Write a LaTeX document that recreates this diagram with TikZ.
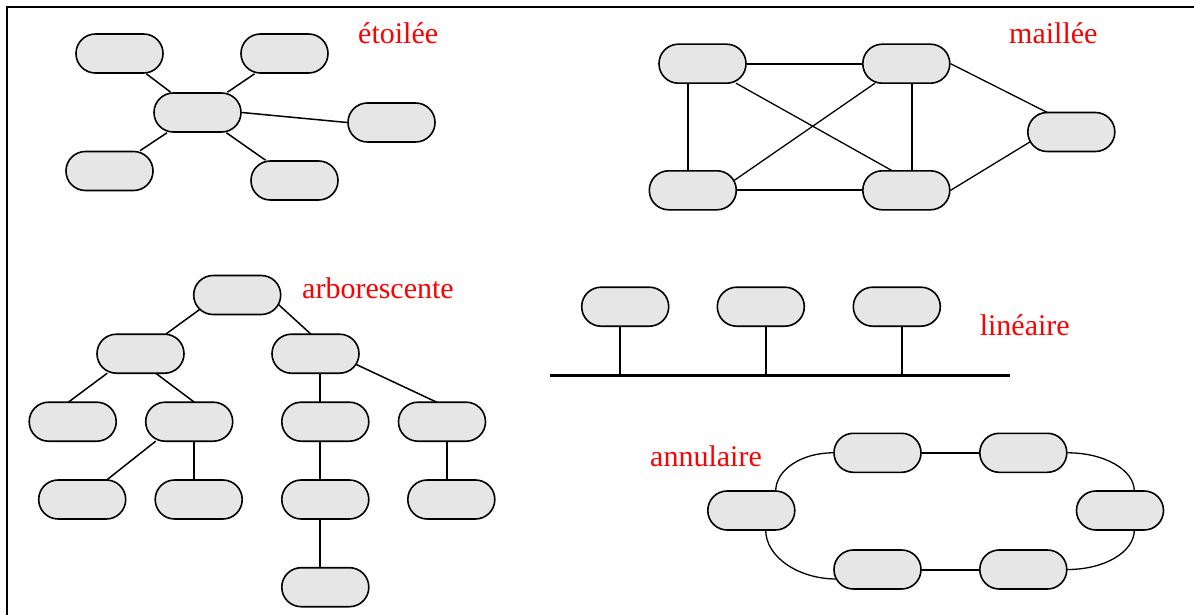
\documentclass[tikz,border=0pt]{standalone}
\usepackage{fontspec}
\setmainfont{Liberation Serif}
\definecolor{nodegray}{RGB}{230,230,230}
\begin{document}
\begin{tikzpicture}[x=1pt,y=-1pt,
  host/.style={draw, line width=1.6pt, fill=nodegray, rectangle, rounded corners=19.4pt,
               minimum width=87pt, minimum height=39pt, inner sep=0pt},
  lbl/.style={text=red, font=\fontsize{30}{32}\selectfont, inner sep=0pt, anchor=base west},
  wire/.style={line width=1.5pt},
  wirethin/.style={line width=1.3pt},
  wirebold/.style={line width=2pt},
  busline/.style={line width=3.2pt},
  frame/.style={line width=1.4pt}]
\useasboundingbox (0,0) rectangle (1194,615);

% frame
\coordinate (fbl) at (7,615);
\coordinate (ftl) at (7,7);
\coordinate (ftr) at (1194,7);
\draw[frame] (fbl) -- (ftl) -- (ftr);

% ---------------- etoilee ----------------
\node[host] (s0) at (197.5,112.5) {};
\node[host] (s1) at (119.5,53.5) {};
\node[host] (s2) at (284.5,53.5) {};
\node[host] (s3) at (391.5,122.5) {};
\node[host] (s4) at (109.5,171) {};
\node[host] (s5) at (294.5,180.5) {};
\draw[wire] (s0) -- (s1);
\draw[wire] (s0) -- (s2);
\draw[wire] (s0.east) -- (s3.west);
\draw[wire] (s0) -- (s4);
\draw[wire] (s0) -- (s5);
\node[lbl] (tstar) at (358,43.3) {étoilée};

% ---------------- maillee ----------------
\node[host] (mA) at (702.5,63.7) {};
\node[host] (mB) at (906.3,63.7) {};
\node[host] (mC) at (692.8,190.3) {};
\node[host] (mD) at (906.3,190.3) {};
\node[host] (mE) at (1071.3,132) {};
\draw[wirebold] (mA) -- (mB);
\draw[wirebold] (mC) -- (mD);
\draw[wirebold] ([shift={(-14.5,19.5)}]mA.center) -- ([shift={(-4.8,-19.5)}]mC.center);
\draw[wirebold] ([shift={(6,19.5)}]mB.center) -- ([shift={(6,-19.5)}]mD.center);
\draw[wirethin] ([shift={(33.5,19.5)}]mA.center) -- ([shift={(-14,-19.5)}]mD.center);
\draw[wirethin] ([shift={(41,-9.6)}]mC.center) -- ([shift={(-31.3,19.5)}]mB.center);
\draw[wirethin] (mB.east) -- ([shift={(-24,-19.5)}]mE.center);
\draw[wirethin] (mD.east) -- ([shift={(-41,9.7)}]mE.center);
\node[lbl] (tmesh) at (1009,44) {maillée};

% ---------------- arborescente ----------------
\node[host] (r)    at (237.2,295) {};
\node[host] (l1)   at (140.5,353.7) {};
\node[host] (r1)   at (315.5,353.7) {};
\node[host] (l1a)  at (72.7,421.7) {};
\node[host] (l1b)  at (189.2,421.7) {};
\node[host] (r1a)  at (325.3,421.7) {};
\node[host] (r1b)  at (442,421.7) {};
\node[host] (l1ba) at (82.2,499.5) {};
\node[host] (l1bb) at (198.7,499.5) {};
\node[host] (r1aa) at (325.3,499.5) {};
\node[host] (r1ba) at (451.3,499.5) {};
\node[host] (r1aaa) at (325.3,587.2) {};
\draw[wire] ([shift={(-37.3,14.3)}]r.center) -- ([shift={(25.2,-19.5)}]l1.center);
\draw[wire] ([shift={(41,9.3)}]r.center) -- ([shift={(-4.5,-19.5)}]r1.center);
\draw[wire] ([shift={(-33.2,19.5)}]l1.center) -- ([shift={(-4.4,-19.5)}]l1a.center);
\draw[wire] ([shift={(15.2,19.5)}]l1.center) -- ([shift={(5.1,-19.5)}]l1b.center);
\draw[wirebold] ([shift={(4.5,19.5)}]r1.center) -- ([shift={(-5.3,-19.5)}]r1a.center);
\draw[wire] ([shift={(40.4,10.6)}]r1.center) -- ([shift={(-5.3,-19.5)}]r1b.center);
\draw[wire] ([shift={(-33.5,19.5)}]l1b.center) -- ([shift={(24.5,-19.5)}]l1ba.center);
\draw[wirebold] ([shift={(5.1,19.5)}]l1b.center) -- ([shift={(-4.4,-19.5)}]l1bb.center);
\draw[wirebold] ([shift={(-5.3,19.5)}]r1a.center) -- ([shift={(-5.3,-19.5)}]r1aa.center);
\draw[wirebold] ([shift={(4.7,19.5)}]r1b.center) -- ([shift={(-4.6,-19.5)}]r1ba.center);
\draw[wirebold] ([shift={(-5.3,19.5)}]r1aa.center) -- ([shift={(-5.3,-19.5)}]r1aaa.center);
\node[lbl] (ttree) at (302,298.3) {arborescente};

% ---------------- lineaire ----------------
\node[host] (n1) at (625.2,306.7) {};
\node[host] (n2) at (760.8,306.7) {};
\node[host] (n3) at (896.8,306.7) {};
\coordinate (busL) at (550,375.7);
\coordinate (busR) at (1010,375.7);
\coordinate (d1) at ([shift={(-5.2,19.5)}]n1.center);
\coordinate (d2) at ([shift={(5.2,19.5)}]n2.center);
\coordinate (d3) at ([shift={(5.2,19.5)}]n3.center);
\draw[busline] (busL) -- (busR);
\draw[wire] (d1) -- (d1 |- busL);
\draw[wire] (d2) -- (d2 |- busL);
\draw[wire] (d3) -- (d3 |- busL);
\node[lbl] (tbus) at (979.6,335) {linéaire};

% ---------------- annulaire ----------------
\node[host] (t1) at (877.5,452.8) {};
\node[host] (t2) at (1023.3,452.8) {};
\node[host] (lf) at (751.3,510.5) {};
\node[host] (rt) at (1120,510.5) {};
\node[host] (b1) at (877.5,569.5) {};
\node[host] (b2) at (1023.3,569.5) {};
\draw[wirebold] (t1) -- (t2);
\draw[wirebold] (b1) -- (b2);
\draw[wirethin] ([shift={(24.4,-19.5)}]lf.center) .. controls +(0,-21) and +(-32,0) .. (t1.west);
\draw[wirethin] ([shift={(14.4,19.5)}]lf.center) .. controls +(0,27) and +(-38,0) .. ([shift={(-41,9.5)}]b1.center);
\draw[wirethin] (t2.east) .. controls +(37,0) and +(0,-21) .. ([shift={(14.3,-19.5)}]rt.center);
\draw[wirethin] ([shift={(14.3,19.5)}]rt.center) .. controls +(0,22) and +(37,0) .. (b2.east);
\node[lbl] (tring) at (650,466.7) {annulaire};
\end{tikzpicture}
\end{document}
